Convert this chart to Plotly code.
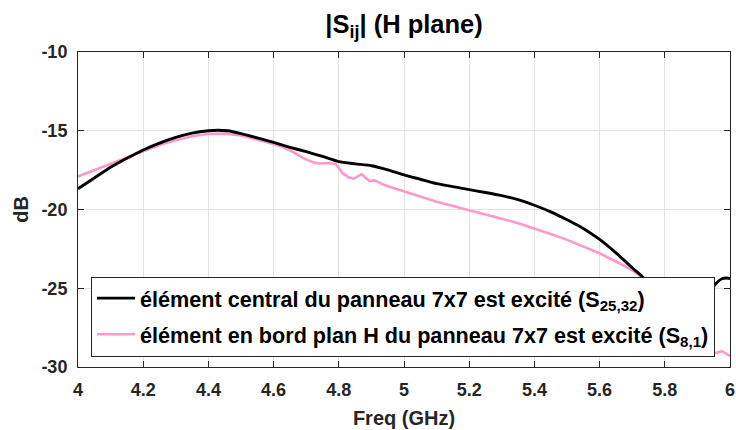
import plotly.graph_objects as go

# ---- data ----
freq_central = [4.00, 4.05, 4.10, 4.15, 4.20, 4.25, 4.30, 4.35, 4.40, 4.43, 4.46, 4.50,
                4.55, 4.60, 4.65, 4.70, 4.75, 4.80, 4.85, 4.90, 4.95, 5.00, 5.05, 5.10,
                5.15, 5.20, 5.25, 5.30, 5.35, 5.40, 5.45, 5.50, 5.55, 5.60, 5.65, 5.70,
                5.733, 5.77, 5.81, 5.85, 5.88, 5.91, 5.94, 5.957, 5.975, 5.99, 6.00]
db_central = [-18.68, -18.00, -17.32, -16.75, -16.22, -15.78, -15.42, -15.15, -15.00, -14.97, -15.00, -15.18,
              -15.45, -15.74, -16.05, -16.33, -16.63, -16.96, -17.10, -17.22, -17.48, -17.80, -18.08, -18.36,
              -18.55, -18.74, -18.92, -19.12, -19.38, -19.73, -20.15, -20.65, -21.20, -21.90, -22.75, -23.70,
              -24.30, -25.20, -26.10, -26.60, -26.70, -26.30, -25.20, -24.70, -24.40, -24.35, -24.38]

freq_edge = [4.00, 4.05, 4.10, 4.15, 4.20, 4.25, 4.30, 4.35, 4.40, 4.45, 4.50, 4.55,
             4.60, 4.63, 4.66, 4.69, 4.72, 4.74, 4.77, 4.79, 4.80, 4.81, 4.83, 4.845,
             4.86, 4.87, 4.88, 4.895, 4.91, 4.925, 4.94, 4.97, 5.00, 5.05, 5.10, 5.15,
             5.20, 5.25, 5.30, 5.35, 5.40, 5.45, 5.50, 5.55, 5.60, 5.65, 5.70, 5.724,
             5.76, 5.80, 5.85, 5.90, 5.95, 5.975, 6.00]
db_edge = [-17.90, -17.50, -17.10, -16.68, -16.26, -15.90, -15.60, -15.35, -15.21, -15.18, -15.30, -15.55,
           -15.84, -16.05, -16.35, -16.72, -17.00, -17.08, -17.05, -17.12, -17.35, -17.68, -17.95, -18.05,
           -17.85, -17.75, -17.95, -18.20, -18.15, -18.30, -18.45, -18.65, -18.85, -19.20, -19.50, -19.78,
           -20.04, -20.30, -20.58, -20.88, -21.20, -21.55, -21.93, -22.33, -22.78, -23.30, -23.85, -24.20,
           -24.90, -25.70, -26.90, -28.20, -29.15, -29.00, -29.30]

name_central = "élément central du panneau 7x7 est excité (S<sub>25,32</sub>)"
name_edge = "élément en bord plan H du panneau 7x7 est excité (S<sub>8,1</sub>)"

x_tickvals = [4, 4.2, 4.4, 4.6, 4.8, 5, 5.2, 5.4, 5.6, 5.8, 6]
x_ticktext = ["4", "4.2", "4.4", "4.6", "4.8", "5", "5.2", "5.4", "5.6", "5.8", "6"]
y_tickvals = [-30, -25, -20, -15, -10]
y_ticktext = ["-30", "-25", "-20", "-15", "-10"]

FONT = "Liberation Sans"
TXT = "#262626"

fig = go.Figure()
fig.add_trace(go.Scatter(x=freq_edge, y=db_edge, mode="lines", name=name_edge,
                         legendgroup="edge", legendrank=2,
                         line=dict(color="#ff99cc", width=2.6)))
fig.add_trace(go.Scatter(x=freq_central, y=db_central, mode="lines", name=name_central,
                         legendgroup="central", legendrank=1,
                         line=dict(color="#000000", width=2.9, shape="spline", smoothing=0.6)))

axis_common = dict(showgrid=True, gridcolor="#e3e3e3", gridwidth=1,
                   showline=True, linecolor=TXT, linewidth=1, mirror="ticks",
                   ticks="inside", ticklen=6, tickcolor=TXT, zeroline=False,
                   automargin=False, ticklabeloverflow="allow",
                   tickfont=dict(family=FONT, size=18, color=TXT, weight="bold"))

fig.update_layout(
    width=736, height=430,
    margin=dict(l=78, r=6, t=52, b=63),
    paper_bgcolor="white", plot_bgcolor="white",
    font=dict(family=FONT, color=TXT),
    title=dict(text="|S<sub>ij</sub>| (H plane)", x=0.549, xanchor="center",
               yref="container", y=0.945, yanchor="middle",
               font=dict(family=FONT, size=25.5, color="#000000", weight="bold")),
    xaxis=dict(range=[4, 6], tickvals=x_tickvals, ticktext=x_ticktext,
               ticklabelstandoff=6,
               title=dict(text="Freq (GHz)", standoff=12,
                          font=dict(family=FONT, size=20, color=TXT, weight="bold")),
               **axis_common),
    yaxis=dict(range=[-30, -10], tickvals=y_tickvals, ticktext=y_ticktext,
               ticklabelstandoff=6,
               title=dict(text="dB", standoff=7,
                          font=dict(family=FONT, size=20, color=TXT, weight="bold")),
               **axis_common),
    legend=dict(x=0.02, y=0.033, xanchor="left", yanchor="bottom",
                bgcolor="white", bordercolor=TXT, borderwidth=1,
                traceorder="grouped", tracegroupgap=5, itemwidth=38,
                font=dict(family=FONT, size=21.6, color="#000000", weight="bold")),
    showlegend=True,
)

fig.write_html("out.html", config={"displayModeBar": False},
               post_script="document.body.style.margin='0';")
